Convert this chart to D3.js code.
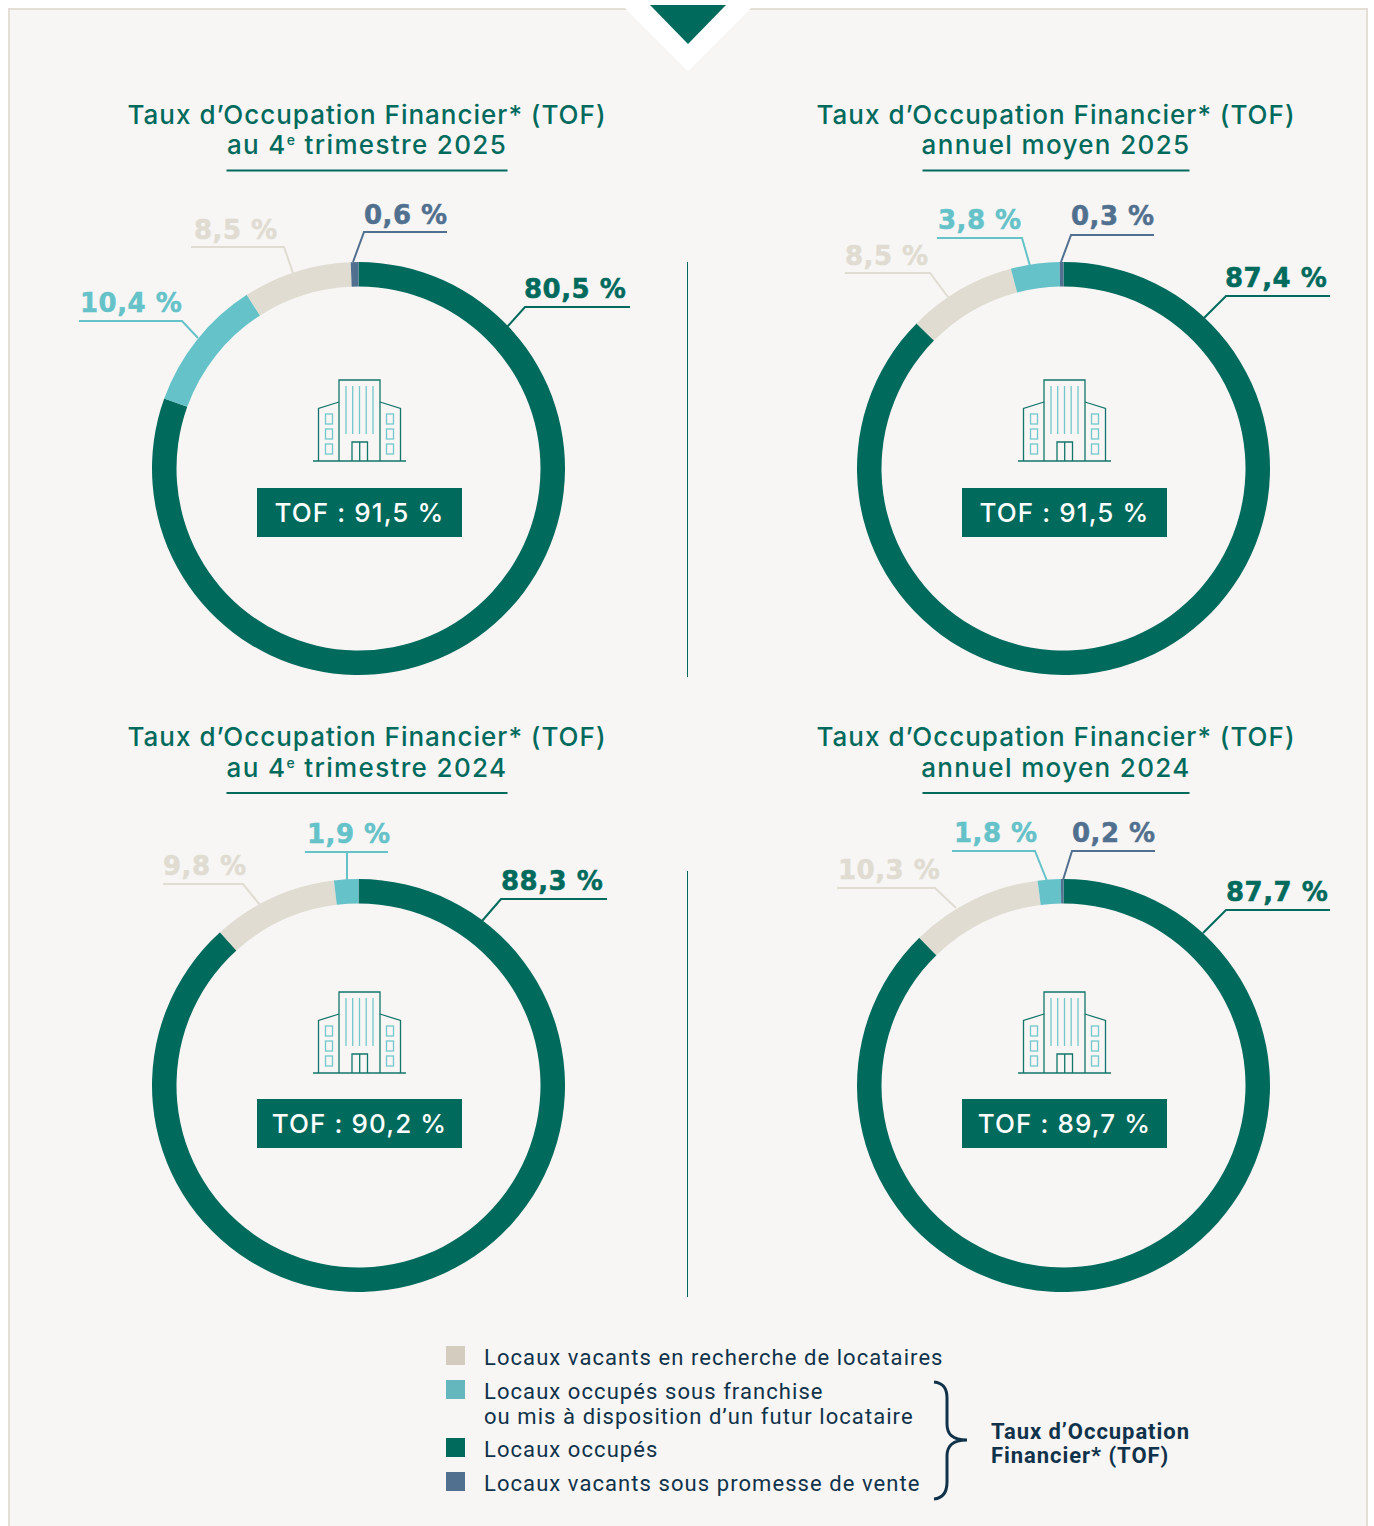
<!DOCTYPE html>
<html lang="fr">
<head>
<meta charset="utf-8">
<title>Taux d'Occupation Financier</title>
<script src="https://cdnjs.cloudflare.com/ajax/libs/d3/7.9.0/d3.min.js"></script>
<style>
    html, body { margin: 0; padding: 0; background: #fff; }
    svg { display: block; }
</style>
</head>
<body>
<div id="chart"></div>
<script>
// Values, clockwise from 12 o'clock
var categories = ["occupes", "franchise", "recherche", "promesse"];
var legendLabels = [
    ["Locaux vacants en recherche de locataires"],
    ["Locaux occupés sous franchise", "ou mis à disposition d’un futur locataire"],
    ["Locaux occupés"],
    ["Locaux vacants sous promesse de vente"]
];
var legendKeys = ["recherche", "franchise", "occupes", "promesse"];

var titleLine1 = "Taux d’Occupation Financier* (TOF)";
var q4Periods = ["2025", "2024"];
var yearPeriods = ["annuel moyen 2025", "annuel moyen 2024"];

var keysQ42025 = ["occupes", "franchise", "recherche", "promesse"];
var valuesQ42025 = [80.5, 10.4, 8.5, 0.6];
var keysYear2025 = ["occupes", "recherche", "franchise", "promesse"];
var valuesYear2025 = [87.4, 8.5, 3.8, 0.3];
var keysQ42024 = ["occupes", "recherche", "franchise"];
var valuesQ42024 = [88.3, 9.8, 1.9];
var keysYear2024 = ["occupes", "recherche", "franchise", "promesse"];
var valuesYear2024 = [87.7, 10.3, 1.8, 0.2];
var tofValues = [91.5, 91.5, 90.2, 89.7];

var w = 1374;
var h = 1526;
var outerR = 206.5;
var innerR = 182;

var colors = d3.scaleOrdinal()
    .domain(categories)
    .range(["#006a5d", "#65c2c9", "#e0dcd2", "#51708f"]);
var legendColors = d3.scaleOrdinal()
    .domain(categories)
    .range(["#006a5d", "#64b8bd", "#d3ccbf", "#51708f"]);

var frNumber = d3.formatLocale({ decimal: ",", thousands: " ", grouping: [3], currency: ["", ""] }).format(".1f");

// Layout of each panel: centre, title and the hand placed leader lines
var panels = [
    {
        cx: 358.5, cy: 468.5, iconX: 0, iconY: 0, boxX: 257, boxY: 488, titleX: 367, titleY: 124, title2Y: 154, ruleY: 170.5, ruleW: 281,
        keys: keysQ42025, values: valuesQ42025, sup: true, period: q4Periods[0], tof: tofValues[0],
        leaders: [
            { tx: 524, ty: 298, pts: [[630, 307], [525, 307], [507, 327]] },
            { tx: 80, ty: 312, pts: [[79, 321], [182, 321], [198, 338]] },
            { tx: 194, ty: 239, pts: [[191, 247], [284, 247], [293, 273]] },
            { tx: 364, ty: 224, pts: [[447, 232], [364, 232], [353, 262]] }
        ]
    },
    {
        cx: 1063.5, cy: 468.5, iconX: 705, iconY: 0, boxX: 962, boxY: 488, titleX: 1056, titleY: 124, title2Y: 154, ruleY: 170.5, ruleW: 267,
        keys: keysYear2025, values: valuesYear2025, period: yearPeriods[0], tof: tofValues[1],
        leaders: [
            { tx: 1225, ty: 287, pts: [[1330, 296], [1226, 296], [1204, 318]] },
            { tx: 845, ty: 265, pts: [[845, 273], [930, 273], [948, 297]] },
            { tx: 938, ty: 229, pts: [[937, 238], [1022, 238], [1030, 266]] },
            { tx: 1071, ty: 225, pts: [[1154, 235], [1071, 235], [1061, 262]] }
        ]
    },
    {
        cx: 358.5, cy: 1085.5, iconX: 0, iconY: 612, boxX: 257, boxY: 1099, titleX: 367, titleY: 746, title2Y: 777, ruleY: 793, ruleW: 281,
        keys: keysQ42024, values: valuesQ42024, sup: true, period: q4Periods[1], tof: tofValues[2],
        leaders: [
            { tx: 501, ty: 890, pts: [[607, 899], [501, 899], [482, 921]] },
            { tx: 163, ty: 875, pts: [[163, 884], [243, 884], [260, 905]] },
            { tx: 307, ty: 843, pts: [[305, 852], [388, 852], [347, 852], [347, 880]] }
        ]
    },
    {
        cx: 1063.5, cy: 1085.5, iconX: 705, iconY: 612, boxX: 962, boxY: 1099, titleX: 1056, titleY: 746, title2Y: 777, ruleY: 793, ruleW: 267,
        keys: keysYear2024, values: valuesYear2024, period: yearPeriods[1], tof: tofValues[3],
        leaders: [
            { tx: 1226, ty: 901, pts: [[1330, 910], [1226, 910], [1203, 933]] },
            { tx: 838, ty: 879, pts: [[837, 888], [935, 888], [956, 908]] },
            { tx: 954, ty: 842, pts: [[952, 851], [1035, 851], [1047, 881]] },
            { tx: 1072, ty: 842, pts: [[1155, 851], [1072, 851], [1063, 880]] }
        ]
    }
];

var svg = d3.select("#chart")
    .append("svg")
    .attr("width", w)
    .attr("height", h);

// Background panel and the chevron on top of it
svg.append("rect")
    .attr("x", 9)
    .attr("y", 9)
    .attr("width", 1358)
    .attr("height", h + 20)
    .attr("fill", "#f7f6f4")
    .attr("stroke", "#e3dfd5")
    .attr("stroke-width", 2);
svg.append("path")
    .attr("d", "M624,0L752,0L752,7L688,71L624,7Z")
    .attr("fill", "#fff");
svg.append("path")
    .attr("d", "M650,5L726,5L688,44Z")
    .attr("fill", "#006a5d");

// Vertical separators
var separators = [[262, 677], [871, 1297]];
svg.selectAll(".separator")
    .data(separators)
    .enter()
    .append("line")
    .attr("class", "separator")
    .attr("x1", 687.5)
    .attr("x2", 687.5)
    .attr("y1", d => d[0])
    .attr("y2", d => d[1])
    .attr("stroke", "#006a5d")
    .attr("stroke-width", 1);

var pie = d3.pie().sort(null).value(d => d.value);
var arc = d3.arc().innerRadius(innerR).outerRadius(outerR);
var leaderLine = d3.line();

function drawIcon(g) {
    var dark = "#12756a";
    var light = "#73c8cd";
    var outline = [
        "M313,461H406",
        "M339,461V380H380V461",
        "M339,402L318.5,408.5V461",
        "M380,402L400.5,408.5V461",
        "M352,461V442H367.5V461",
        "M359.7,442V461"
    ];
    g.selectAll(".outline")
        .data(outline)
        .enter()
        .append("path")
        .attr("class", "outline")
        .attr("d", d => d)
        .attr("fill", "none")
        .attr("stroke", dark)
        .attr("stroke-width", 1.3);
    g.selectAll(".shaft")
        .data([346, 352.7, 359.5, 366.2, 373])
        .enter()
        .append("line")
        .attr("class", "shaft")
        .attr("x1", d => d)
        .attr("x2", d => d)
        .attr("y1", 386)
        .attr("y2", 434)
        .attr("stroke", light)
        .attr("stroke-width", 1.3);
    var winX = [325.5, 386.5];
    var winY = [414, 429, 444];
    winX.forEach(function (x) {
        winY.forEach(function (y) {
            g.append("rect")
                .attr("x", x)
                .attr("y", y)
                .attr("width", 7)
                .attr("height", 10)
                .attr("fill", "none")
                .attr("stroke", light)
                .attr("stroke-width", 1.3);
        });
    });
}

panels.forEach(function (p) {
    var g = svg.append("g");

    // Title, two lines and a rule
    g.append("text")
        .attr("x", p.titleX)
        .attr("y", p.titleY)
        .attr("text-anchor", "middle")
        .attr("font-family", "Inter, sans-serif")
        .attr("font-weight", 500)
        .attr("font-size", 26)
        .attr("letter-spacing", 1)
        .attr("fill", "#006a5d")
        .text(titleLine1);

    var line2 = g.append("text")
        .attr("x", p.titleX)
        .attr("y", p.title2Y)
        .attr("text-anchor", "middle")
        .attr("font-family", "Inter, sans-serif")
        .attr("font-weight", 500)
        .attr("font-size", 26)
        .attr("letter-spacing", 1.35)
        .attr("fill", "#006a5d");
    if (p.sup) {
        line2.append("tspan").text("au 4");
        line2.append("tspan").attr("dy", -9).attr("font-size", 14).text("e");
        line2.append("tspan").attr("dy", 9).text(" trimestre " + p.period);
    } else {
        line2.text(p.period);
    }

    g.append("line")
        .attr("x1", p.titleX - p.ruleW / 2)
        .attr("x2", p.titleX + p.ruleW / 2)
        .attr("y1", p.ruleY)
        .attr("y2", p.ruleY)
        .attr("stroke", "#006a5d")
        .attr("stroke-width", 2);

    // Donut
    var rows = p.values.map((v, i) => ({ value: v, key: p.keys[i] }));
    var ring = g.append("g")
        .attr("transform", `translate(${p.cx}, ${p.cy})`);
    ring.selectAll("path")
        .data(pie(rows))
        .enter()
        .append("path")
        .attr("d", arc)
        .attr("fill", d => colors(d.data.key));

    // Leader lines and value labels
    rows.forEach(function (r, i) {
        var l = p.leaders[i];
        g.append("path")
            .attr("d", leaderLine(l.pts))
            .attr("fill", "none")
            .attr("stroke", colors(r.key))
            .attr("stroke-width", 2);
        g.append("text")
            .attr("x", l.tx)
            .attr("y", l.ty)
            .attr("font-family", "'DejaVu Sans', sans-serif")
            .attr("font-weight", 700)
            .attr("font-size", 26)
            .attr("letter-spacing", 0.5)
            .attr("stroke", colors(r.key))
            .attr("stroke-width", 0.5)
            .attr("fill", colors(r.key))
            .text(frNumber(r.value) + " %");
    });

    // Building icon, drawn once in the first panel's coordinates
    var iconG = g.append("g")
        .attr("transform", `translate(${p.iconX}, ${p.iconY})`);
    drawIcon(iconG);

    // TOF box
    g.append("rect")
        .attr("x", p.boxX)
        .attr("y", p.boxY)
        .attr("width", 205)
        .attr("height", 49)
        .attr("fill", "#006a5d");
    g.append("text")
        .attr("x", p.boxX + 102.5)
        .attr("y", p.boxY + 34)
        .attr("text-anchor", "middle")
        .attr("font-family", "Inter, sans-serif")
        .attr("font-weight", 500)
        .attr("font-size", 26)
        .attr("letter-spacing", 1.1)
        .attr("fill", "#fff")
        .text("TOF : " + frNumber(p.tof) + " %");
});

// Legend
var legendTop = [1346, 1380, 1438, 1472];
var legend = svg.append("g");
legendKeys.forEach(function (key, i) {
    legend.append("rect")
        .attr("x", 446)
        .attr("y", legendTop[i])
        .attr("width", 19)
        .attr("height", 19)
        .attr("fill", legendColors(key));
    legendLabels[i].forEach(function (txt, j) {
        legend.append("text")
            .attr("x", 484)
            .attr("y", legendTop[i] + 19 + j * 25)
            .attr("font-family", "Roboto, sans-serif")
            .attr("font-size", 22)
            .attr("letter-spacing", 1.07)
            .attr("fill", "#10324a")
            .text(txt);
    });
});

legend.append("path")
    .attr("d", "M934,1382C944,1383 947,1389 947,1398V1424C947,1434 952,1440 967,1440C952,1440 947,1446 947,1456V1482C947,1491 944,1498 934,1499")
    .attr("fill", "none")
    .attr("stroke", "#10324a")
    .attr("stroke-width", 3);

["Taux d’Occupation", "Financier* (TOF)"].forEach(function (txt, i) {
    legend.append("text")
        .attr("x", 991)
        .attr("y", 1439 + i * 24)
        .attr("font-family", "Roboto, sans-serif")
        .attr("font-weight", 700)
        .attr("font-size", 22)
        .attr("letter-spacing", 0.95)
        .attr("fill", "#10324a")
        .text(txt);
});
</script>
</body>
</html>
